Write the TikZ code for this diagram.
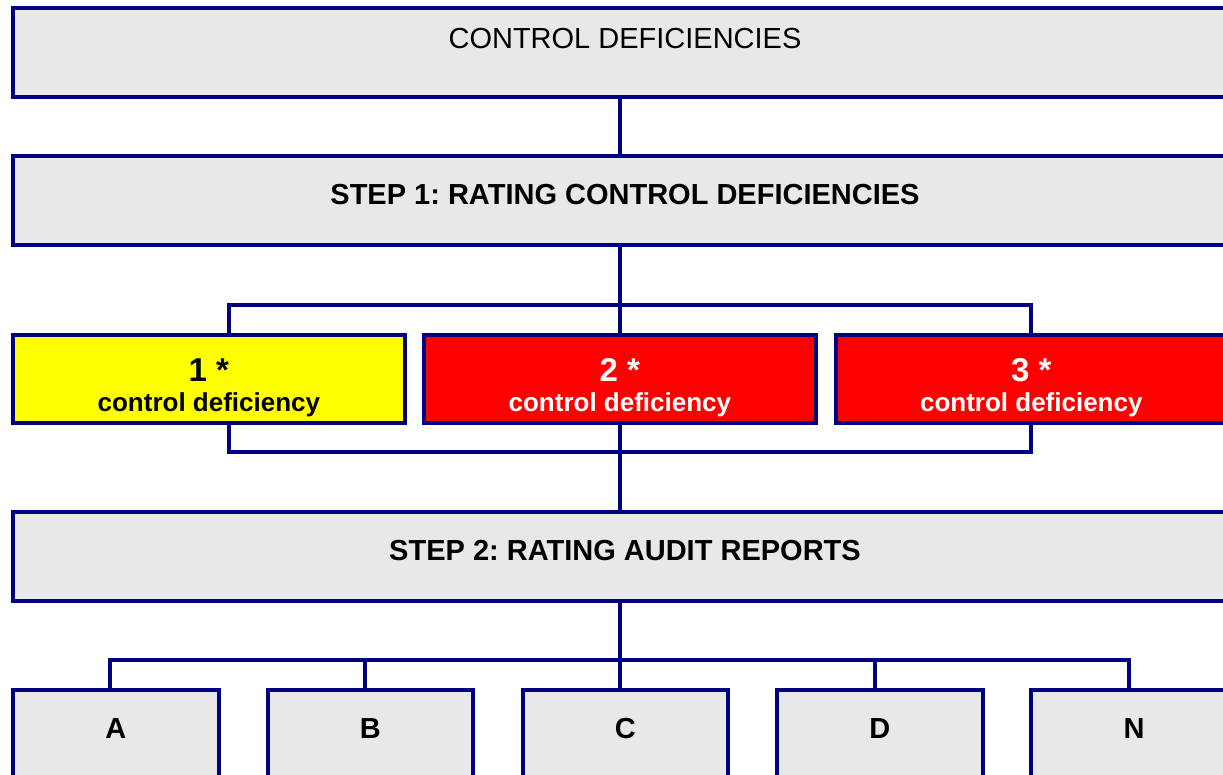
\documentclass[tikz,border=0pt]{standalone}
\usepackage{fontspec}
\setmainfont{Liberation Sans}
\usepackage{xcolor}
\definecolor{navyline}{RGB}{0,0,128}
\definecolor{panelgrey}{RGB}{232,232,232}
\definecolor{flagyellow}{RGB}{255,255,0}
\definecolor{flagred}{RGB}{255,0,0}
\usetikzlibrary{positioning,calc}
\frenchspacing

\begin{document}
\begin{tikzpicture}[x=1pt, y=-1pt,
	box/.style={rectangle, draw=navyline, line width=4pt, fill=panelgrey, inner sep=0pt, outer sep=0pt},
	stepbox/.style={box, minimum width=1224pt, minimum height=89pt, font=\bfseries\fontsize{29}{34}\selectfont, text height=21pt, text depth=14pt},
	ratebox/.style={box, minimum width=391.5pt, minimum height=88.3pt, align=center, font=\bfseries\fontsize{26}{30}\selectfont},
	leafbox/.style={box, minimum width=205.5pt, minimum height=120pt, font=\bfseries\fontsize{29}{34}\selectfont, text height=21pt, text depth=45pt},
	link/.style={draw=navyline, line width=4pt}]
			\useasboundingbox (0,0) rectangle (1223,774);
			\clip (0,0) rectangle (1223,774);
			\coordinate (spine) at (620,0);
			\coordinate (upbar) at (0,305);
			\coordinate (lowbar) at (0,452.3);
			\coordinate (botbar) at (0,660.3);
			\node[stepbox, font=\fontsize{29}{34}\selectfont, text depth=28pt, minimum height=88.7pt] (top) at (625,52.3) {CONTROL DEFICIENCIES};
			\node[stepbox] (step1) at (625,200.5) {STEP 1: RATING CONTROL DEFICIENCIES};
			\node[ratebox, fill=flagyellow] (rate1) at (208.9,378.9) {{\fontsize{33}{30}\selectfont\rule{0pt}{40.5pt}1 *}\\control deficiency};
			\node[ratebox, fill=flagred, text=white] (rate2) at (619.9,378.9) {{\fontsize{33}{30}\selectfont\rule{0pt}{40.5pt}2 *}\\control deficiency};
			\node[ratebox, fill=flagred, text=white] (rate3) at (1031.3,378.9) {{\fontsize{33}{30}\selectfont\rule{0pt}{40.5pt}3 *}\\control deficiency};
			\node[stepbox, minimum height=89.3pt] (step2) at (625,556.7) {STEP 2: RATING AUDIT REPORTS};
			\foreach \n/\x in {A/115.8, B/370.4, C/625.4, D/879.8, N/1134}
				\node[leafbox] (leaf\n) at (\x,750.3) {\n};
			% spine down the middle
			\draw[link] (top.south -| spine) -- (step1.north -| spine);
			\draw[link] (step1.south -| spine) -- (rate2.north -| spine);
			\draw[link] (rate2.south -| spine) -- (step2.north -| spine);
			\draw[link] (step2.south -| spine) -- (leafC.north -| spine);
			% brackets
			\draw[link] ([xshift=20pt]rate1.north) |- (rate3.north |- upbar) -- (rate3.north);
			\draw[link] ([xshift=20pt]rate1.south) |- (rate3.south |- lowbar) -- (rate3.south);
			\draw[link] ([xshift=-5.8pt]leafA.north) |- (botbar -| spine) -| ([xshift=-5pt]leafN.north);
			\foreach \n in {B,D}
				\draw[link] ([xshift=-5pt]leaf\n.north) -- ([xshift=-5pt]leaf\n.north |- botbar);
		\end{tikzpicture}
\end{document}
